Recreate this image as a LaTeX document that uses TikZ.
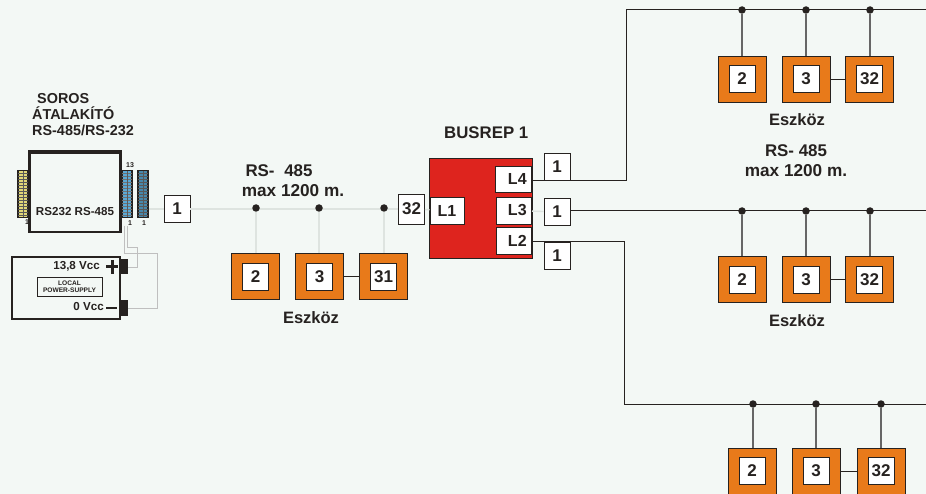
\documentclass[tikz,border=0pt]{standalone}
\usepackage{fontspec}
\setmainfont{Liberation Sans}
\usepackage{xcolor}
\usetikzlibrary{arrows.meta,positioning,calc}
\definecolor{ink}{RGB}{38,34,32}
\definecolor{bgnd}{RGB}{243,248,245}
\definecolor{devor}{RGB}{232,122,26}
\definecolor{busred}{RGB}{222,36,30}
\definecolor{pale}{RGB}{222,228,224}
\definecolor{pinY}{RGB}{225,215,120}
\definecolor{pinB}{RGB}{90,170,215}
\newcommand{\fs}[1]{\fontsize{#1}{#1}\selectfont\bfseries}
\tikzset{
  dev/.style={draw=ink,line width=0.9pt,fill=devor,minimum width=48pt,minimum height=46pt,inner sep=0pt},
  num/.style={draw=ink,line width=0.8pt,fill=white,minimum width=26pt,minimum height=27pt,inner sep=0pt,font=\fs{17},text=ink},
  lnk/.style={draw=ink,line width=0.7pt,fill=white,inner sep=0pt,font=\fs{16},text=ink},
  jn/.style={circle,fill=ink,minimum size=7.5pt,inner sep=0pt},
  lbl/.style={font=\fs{14.4},text=ink,inner sep=0pt,align=left},
  bus/.style={draw=ink,line width=1pt},
  drop/.style={draw=black!60,line width=1.3pt},
  palebus/.style={draw=pale,line width=1.4pt},
  wire/.style={draw=black!25,line width=0.8pt},
  thickbox/.style={draw=ink,line width=2.2pt,fill=bgnd,inner sep=0pt},
  pinblock/.style={draw=ink,line width=1.6pt,inner sep=0pt,minimum width=10pt,minimum height=47pt},
  tiny/.style={font=\fs{7},text=ink,inner sep=0pt},
}
\begin{document}
\begin{tikzpicture}[x=1pt,y=-1pt]
  \useasboundingbox[fill=bgnd] (0,0) rectangle (926,494);
  % converter
  \node[lbl,anchor=base west] (title1) at (37,104) {SOROS};
  \node[lbl,anchor=base west] (title2) at (32,120) {ÁTALAKÍTÓ};
  \node[lbl,anchor=base west] (title3) at (32,136) {RS-485/RS-232};
  \node[thickbox,minimum width=91pt,minimum height=79pt] (conv) at (75,192.5) {};
  \draw[ink,line width=3.2pt] (conv.north west) -- (conv.north east);
  \node[font=\fs{11.6},text=ink,inner sep=0pt] (convtxt) at (75,212) {RS232 RS-485};
  \node[pinblock,fill=pinY] (pinL) at (23,194) {};
  \node[pinblock,fill=pinB] (pinM) at (127,194) {};
  \node[pinblock,fill=pinB!80!black] (pinR) at (143,194) {};
  \foreach \y in {173,176,...,215}{
    \draw[black!65,line width=0.5pt] (18,\y) -- (28,\y);
    \draw[black!55,line width=0.5pt] (122,\y) -- (132,\y);
    \draw[black!65,line width=0.5pt] (138,\y) -- (148,\y);
  }
  \foreach \x in {23,127,143}{
    \draw[black!65,line width=0.6pt] (\x,171) -- (\x,217);
  }
  \node[tiny] (n13) at (130,165) {13};
  \node[tiny] (n1a) at (27,222) {1};
  \node[tiny] (n1b) at (130,223) {1};
  \node[tiny] (n1c) at (144,223) {1};
  % power supply
  \node[thickbox,minimum width=108pt,minimum height=62pt] (psu) at (66,288) {};
  \node[draw=ink,line width=0.6pt,fill=bgnd,minimum width=65pt,minimum height=19pt,inner sep=0pt,
    font=\fs{6.6},text=ink,align=center] (local) at (69.5,287) {LOCAL\\[0.5pt]POWER-SUPPLY};
  \node[font=\fs{11.6},text=ink,inner sep=0pt,anchor=east] (vcc) at (100,266) {13,8 Vcc};
  \node[font=\fs{11.6},text=ink,inner sep=0pt,anchor=east] (gnd) at (104,307) {0 Vcc};
  \node[fill=ink,minimum width=7pt,minimum height=15pt,inner sep=0pt] (tplus) at (124,267) {};
  \node[fill=ink,minimum width=7pt,minimum height=16pt,inner sep=0pt] (tminus) at (124,308) {};
  \draw[ink,line width=3pt] (106,267) -- (118,267) (112,260) -- (112,274);
  \draw[ink,line width=2.6pt] (106,308) -- (117,308);
  \coordinate (wA) at (124,253);
  \coordinate (wB) at (157,253);
  \coordinate (wC) at (157,308);
  \coordinate (wD) at (127,247);
  \coordinate (wE) at (137,247);
  \coordinate (wF) at (137,267);
  \draw[wire] (124,226) -- (wA) -- (wB) -- (wC) -- (tminus.east);
  \draw[wire] (127,226) -- (wD) -- (wE) -- (wF) -- (tplus.east);
  % left segment
  \node[num] (n1) at (177,209) {1};
  \node[num,minimum height=30pt] (n32) at (411.5,209) {32};
  \draw[palebus] (pinR.east |- n1) -- (n1);
  \draw[palebus] (n1) -- (n32);
  \node[lbl,font=\fs{16.9}] (rsA) at (279,171) {RS-\hspace{5pt} 485};
  \node[lbl,font=\fs{17.2}] (maxA) at (293,191) {max 1200 m.};
  % busrep
  \node[lbl,font=\fs{16.8},anchor=west] (brep) at (444,133) {BUSREP 1};
  \node[draw=ink,line width=0.9pt,fill=busred,minimum width=103pt,minimum height=100pt,inner sep=0pt] (rep) at (480.5,208) {};
  \node[lnk,minimum width=34pt,minimum height=27pt] (L1) at (447,210.5) {L1};
  \node[lnk,minimum width=36pt,minimum height=26pt,anchor=east,align=right,text width=26pt] (L4) at (532,179) {L4};
  \node[lnk,minimum width=35pt,minimum height=27pt,anchor=east,align=right,text width=25pt] (L3) at (532,210.5) {L3};
  \node[lnk,minimum width=35pt,minimum height=27pt,anchor=east,align=right,text width=25pt] (L2) at (532,240.5) {L2};
  \node[num] (o4) at (557,167) {1};
  \node[num] (o3) at (557,212) {1};
  \node[num] (o2) at (557,256) {1};
  \draw[palebus] (n32) -- (L1);
  \draw[palebus] (L3) -- (o3);
  % outgoing lines
  \coordinate (topA) at (626,10);
  \coordinate (topB) at (926,10);
  \coordinate (midB) at (926,211);
  \coordinate (lowA) at (624,404);
  \coordinate (lowB) at (926,404);
  \coordinate (l4out) at (532,181);
  \coordinate (l2out) at (532,242);
  \draw[bus] (l4out) -| (topA) -- (topB);
  \draw[bus] (o3.east |- midB) -- (midB);
  \draw[bus] (l2out) -| (lowA) -- (lowB);
  % devices
  \foreach \rw/\yj/\yd/\xa/\xb/\xc/\ja/\jb/\jc/\lst/\dl in {
    a/208/276.5/255.5/319.5/383.5/256/319/384/31/palebus,
    b/10/79/742/806/869.5/742/806/870/32/drop,
    c/211/279.5/742/806/869.5/742/806/870/32/drop,
    d/404/471/752/816/881/753/816/881/32/drop}{
    \node[dev] (\rw2) at (\xa,\yd) {};
    \node[dev] (\rw3) at (\xb,\yd) {};
    \node[dev] (\rw4) at (\xc,\yd) {};
    \node[num] (t\rw2) at (\xa,\yd) {2};
    \node[num] (t\rw3) at (\xb,\yd) {3};
    \node[num] (t\rw4) at (\xc,\yd) {\lst};
    \node[jn] (j\rw2) at (\ja,\yj) {};
    \node[jn] (j\rw3) at (\jb,\yj) {};
    \node[jn] (j\rw4) at (\jc,\yj) {};
    \draw[\dl] (j\rw2) -- (j\rw2 |- \rw2.north);
    \draw[\dl] (j\rw3) -- (j\rw3 |- \rw3.north);
    \draw[\dl] (j\rw4) -- (j\rw4 |- \rw4.north);
    \draw[ink,line width=0.8pt] (\rw3) -- (\rw4);
  }
  \node[lbl,font=\fs{16.5}] (eszA) at (311,318) {Eszköz};
  \node[lbl,font=\fs{16.5}] (eszB) at (797,120) {Eszköz};
  \node[lbl,font=\fs{16.5}] (eszC) at (797,321) {Eszköz};
  \node[lbl,font=\fs{16.9}] (rsB) at (796,151) {RS- 485};
  \node[lbl,font=\fs{17.2}] (maxB) at (796,171) {max 1200 m.};
\end{tikzpicture}
\end{document}
